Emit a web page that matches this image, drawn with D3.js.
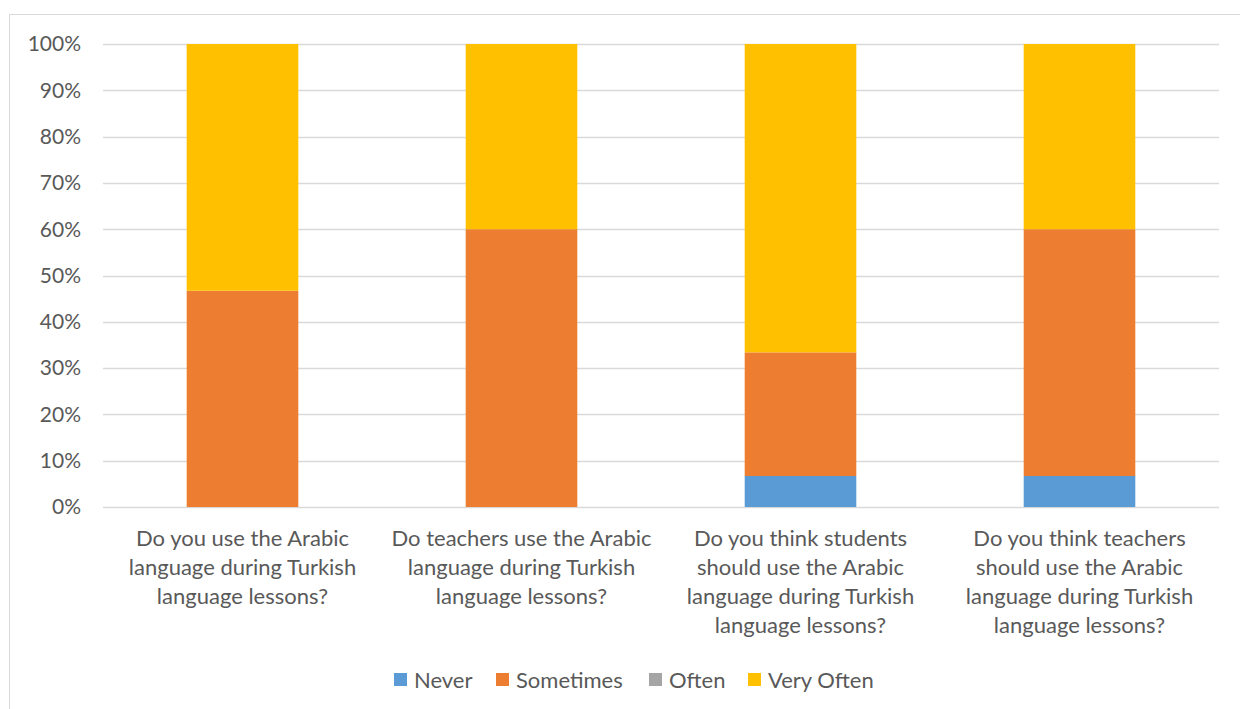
<!DOCTYPE html>
<html><head><meta charset="utf-8">
<script src="https://cdn.jsdelivr.net/npm/d3@7"></script>
<style>body{margin:0;background:#fff}svg{display:block}text{font-family:Lato,sans-serif;fill:#595959}</style>
</head><body><svg id="c" width="1240" height="709"></svg>
<script>
const categories = [
  ["Do you use the Arabic","language during Turkish","language lessons?"],
  ["Do teachers use the Arabic","language during Turkish","language lessons?"],
  ["Do you think students","should use the Arabic","language during Turkish","language lessons?"],
  ["Do you think teachers","should use the Arabic","language during Turkish","language lessons?"]
];
const seriesNames = ["Never","Sometimes","Often","Very Often"];
const colors = ["#5B9BD5","#ED7D31","#A5A5A5","#FFC000"];
const never = [0, 0, 6.7, 6.7];
const sometimes = [46.7, 60, 26.7, 53.3];
const often = [0, 0, 0, 0];
const veryOften = [53.3, 40, 66.6, 40];
const yTicks = [0,10,20,30,40,50,60,70,80,90,100];

const FS = "22px", FT = "21px";
const svg = d3.select("#c");
svg.append("rect").attr("x",9.5).attr("y",14.5).attr("width",1300).attr("height",800)
  .attr("fill","none").attr("stroke","#d9d9d9");

const L=103, R=1219, T=44, B=507;
const x = d3.scaleBand().domain(d3.range(categories.length)).range([L,R]).paddingInner(0.6).paddingOuter(0.3);
const y = d3.scaleLinear().domain([0,100]).range([B,T]);

svg.append("g").selectAll("line").data(yTicks).join("line")
  .attr("x1",L).attr("x2",R).attr("y1",d=>Math.round(y(d))+0.5).attr("y2",d=>Math.round(y(d))+0.5)
  .attr("stroke","#d9d9d9").attr("stroke-width",1.3);
svg.append("g").selectAll("text").data(yTicks).join("text")
  .attr("x",81).attr("y",d=>y(d)).attr("dy","0.35em").attr("text-anchor","end")
  .style("font-size",FT).text(d=>d+"%");

const data = categories.map((c,i)=>({i,Never:never[i],Sometimes:sometimes[i],Often:often[i],"Very Often":veryOften[i]}));
const stacked = d3.stack().keys(seriesNames)(data);
svg.append("g").selectAll("g").data(stacked).join("g").attr("fill",(d,k)=>colors[k])
  .selectAll("rect").data(d=>d).join("rect")
  .attr("x",d=>x(d.data.i)).attr("width",x.bandwidth())
  .attr("y",d=>y(Math.min(100,d[1]))).attr("height",d=>Math.max(0,y(d[0])-y(Math.min(100,d[1]))));

const lab = svg.append("g").selectAll("text").data(categories).join("text")
  .attr("text-anchor","middle").style("font-size",FS)
  .attr("transform",(d,i)=>`translate(${x(i)+x.bandwidth()/2},546)`);
lab.selectAll("tspan").data(d=>d).join("tspan").attr("x",0).attr("y",(d,j)=>j*29).text(d=>d);

const legX = [394,496,649,748];
const lg = svg.append("g").selectAll("g").data(seriesNames).join("g")
  .attr("transform",(d,k)=>`translate(${legX[k]},673)`);
lg.append("rect").attr("width",13).attr("height",13).attr("fill",(d,k)=>colors[k]);
lg.append("text").attr("x",20).attr("y",7).attr("dy","0.35em").style("font-size",FS).text(d=>d);
</script></body></html>
